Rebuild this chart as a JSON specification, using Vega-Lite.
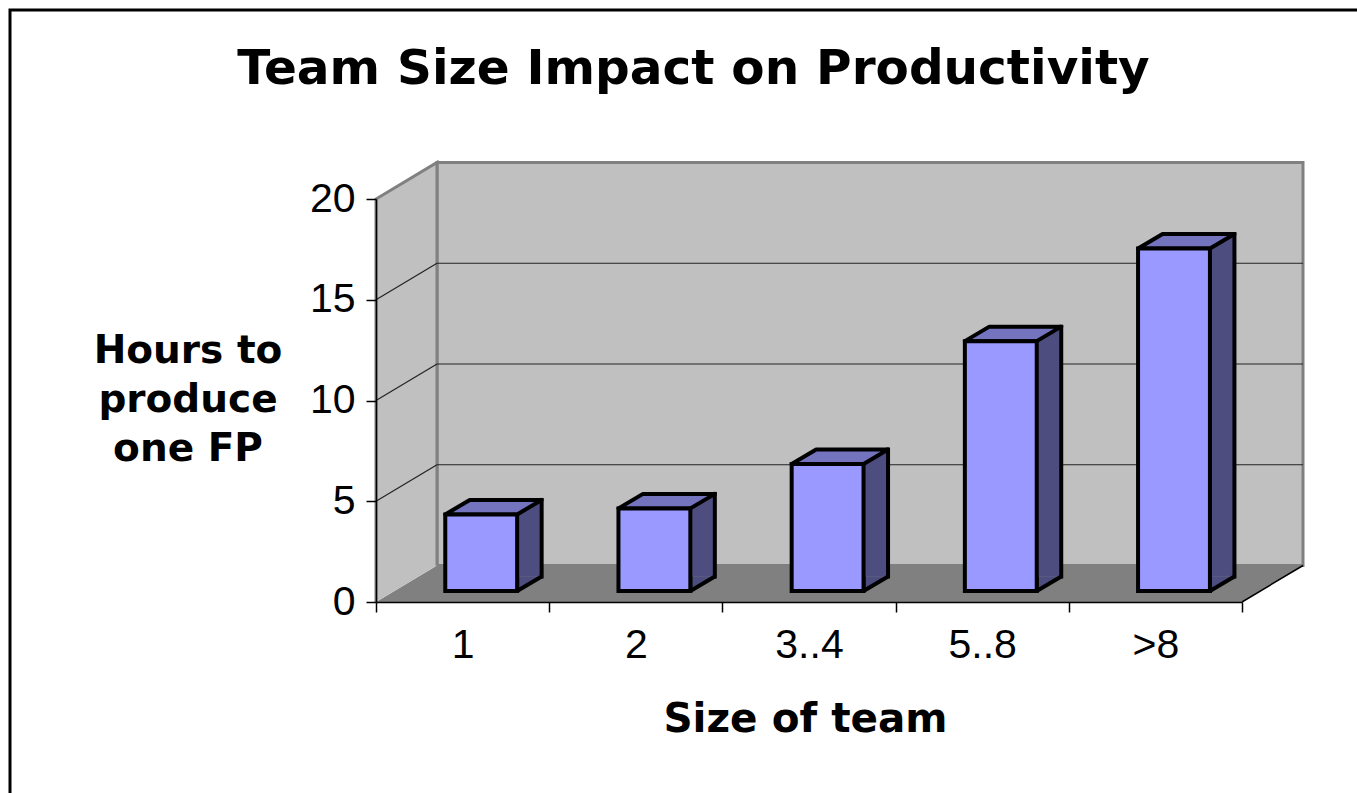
{
  "$schema": "https://vega.github.io/schema/vega-lite/v6.json",
  "width": 1347,
  "height": 783,
  "autosize": {"type": "none"},
  "padding": {"left": 10, "top": 10, "right": 0, "bottom": 0},
  "background": "white",
  "config": {
    "view": {"stroke": "black", "strokeWidth": 3, "strokeDash": [1347, 2130, 783], "fill": null}
  },
  "title": {
    "text": "Team Size Impact on Productivity",
    "font": "DejaVu Sans",
    "fontWeight": "bold",
    "fontSize": 48.5,
    "color": "black",
    "anchor": "middle",
    "frame": "group",
    "baseline": "alphabetic",
    "offset": 0,
    "dx": 10,
    "dy": 122
  },
  "datasets": {
    "teams": [
      {"team": "1", "hours": 3.8},
      {"team": "2", "hours": 4.1},
      {"team": "3..4", "hours": 6.3},
      {"team": "5..8", "hours": 12.4},
      {"team": ">8", "hours": 17.0}
    ],
    "grid": [{"v": 5}, {"v": 10}, {"v": 15}],
    "frame": [{"part": "wall"}]
  },
  "data": {"name": "teams"},
  "resolve": {"axis": {"x": "independent", "y": "independent"}},
  "layer": [
    {
      "data": {"name": "frame"},
      "mark": {"type": "point", "shape": "M61,-36.5 L61,-439.5 L927,-439.5 L927,-36.5 Z", "size": 4, "filled": true, "fill": "#C0C0C0", "stroke": "#808080", "strokeWidth": 3, "opacity": 1, "xOffset": -86.6},
      "encoding": {
        "x": {"datum": "1", "type": "nominal", "scale": {"type": "band", "domain": ["1", "2", "3..4", "5..8", ">8"], "range": [366, 1232], "paddingInner": 0, "paddingOuter": 0}, "axis": null},
        "y": {"datum": 0, "type": "quantitative", "scale": {"type": "linear", "domain": [0, 20], "range": [592, 189], "nice": false, "zero": true}, "axis": null}
      }
    },
    {
      "data": {"name": "frame"},
      "mark": {"type": "point", "shape": "M0,0 L866,0 L927,-36.5 L61,-36.5 Z", "size": 4, "filled": true, "fill": "#808080", "strokeWidth": 0, "opacity": 1, "xOffset": -86.6},
      "encoding": {
        "x": {"datum": "1", "type": "nominal", "axis": null},
        "y": {"datum": 0, "type": "quantitative", "axis": null}
      }
    },
    {
      "data": {"name": "frame"},
      "mark": {"type": "point", "shape": "M0,0 L0,-403 L61,-439.5 L61,-36.5", "size": 4, "filled": true, "fill": "#C0C0C0", "stroke": "#808080", "strokeWidth": 3, "opacity": 1, "xOffset": -86.6},
      "encoding": {
        "x": {"datum": "1", "type": "nominal", "axis": null},
        "y": {"datum": 0, "type": "quantitative", "axis": null}
      }
    },
    {
      "data": {"name": "frame"},
      "mark": {"type": "point", "shape": "M866,0 L927,-36.5", "size": 4, "filled": false, "fill": "transparent", "stroke": "black", "strokeWidth": 1.5, "opacity": 1, "xOffset": -86.6},
      "encoding": {
        "x": {"datum": "1", "type": "nominal", "axis": null},
        "y": {"datum": 0, "type": "quantitative", "axis": null}
      }
    },
    {
      "data": {"name": "grid"},
      "mark": {"type": "rule", "stroke": "#222222", "strokeWidth": 1.2, "xOffset": -25.6, "x2Offset": 147.6, "yOffset": -36.5},
      "encoding": {
        "x": {"datum": "1", "type": "nominal", "axis": null},
        "x2": {"datum": ">8"},
        "y": {"field": "v", "type": "quantitative", "axis": null}
      }
    },
    {
      "data": {"name": "grid"},
      "mark": {"type": "rule", "stroke": "#222222", "strokeWidth": 1.2, "xOffset": -86.6, "x2Offset": -25.6, "y2Offset": -36.5},
      "encoding": {
        "x": {"datum": "1", "type": "nominal", "axis": null},
        "x2": {"datum": "1"},
        "y": {"field": "v", "type": "quantitative", "axis": null},
        "y2": {"field": "v"}
      }
    },
    {
      "mark": {"type": "bar", "width": {"band": 0.415}, "fill": "#4D4D80", "strokeWidth": 0, "xOffset": 43.1, "x2Offset": 43.1, "yOffset": -25.5, "y2Offset": -25.5},
      "encoding": {
        "x": {"field": "team", "type": "nominal", "axis": null},
        "y": {"field": "hours", "type": "quantitative", "axis": null},
        "y2": {"datum": 0}
      }
    },
    {
      "mark": {"type": "point", "shape": "M0,-14.5 L0,0 L24.5,-14.5", "size": 4, "filled": true, "fill": "#4D4D80", "stroke": "black", "strokeWidth": 4, "strokeJoin": "round", "opacity": 1, "xOffset": 54.54, "yOffset": -11},
      "encoding": {
        "x": {"field": "team", "type": "nominal", "axis": null},
        "y": {"datum": 0, "type": "quantitative", "axis": null}
      }
    },
    {
      "mark": {"type": "rule", "stroke": "black", "strokeWidth": 4, "strokeCap": "square", "xOffset": 79.04, "yOffset": -25.5, "y2Offset": -25.5},
      "encoding": {
        "x": {"field": "team", "type": "nominal", "axis": null},
        "y": {"field": "hours", "type": "quantitative", "axis": null},
        "y2": {"datum": 0}
      }
    },
    {
      "mark": {"type": "point", "shape": "M0,0 L71.9,0 L96.4,-14.5 L24.5,-14.5 Z", "size": 4, "filled": true, "fill": "#7373BE", "stroke": "black", "strokeWidth": 4, "strokeJoin": "round", "opacity": 1, "xOffset": -17.34, "yOffset": -11},
      "encoding": {
        "x": {"field": "team", "type": "nominal", "axis": null},
        "y": {"field": "hours", "type": "quantitative", "axis": null}
      }
    },
    {
      "mark": {"type": "bar", "width": {"band": 0.415}, "fill": "#9999FF", "stroke": "black", "strokeWidth": 4, "xOffset": 18.6, "x2Offset": 18.6, "yOffset": -11, "y2Offset": -11},
      "encoding": {
        "x": {
          "field": "team", "type": "nominal", "sort": null,
          "scale": {"type": "band", "domain": ["1", "2", "3..4", "5..8", ">8"], "range": [366, 1232], "paddingInner": 0, "paddingOuter": 0},
          "axis": {
            "title": "Size of team", "orient": "bottom", "offset": -191, "zindex": 1,
            "domainColor": "black", "domainWidth": 1.5, "tickColor": "black", "tickWidth": 1.5, "tickSize": 10, "tickBand": "extent",
            "labelFont": "Liberation Sans", "labelFontSize": 41, "labelColor": "black", "labelPadding": 13, "labelAngle": 0,
            "titleFont": "DejaVu Sans", "titleFontWeight": "bold", "titleFontSize": 40.5, "titleColor": "black",
            "titleX": 795, "titleY": 129, "titleBaseline": "alphabetic", "titleAlign": "center", "grid": false
          }
        },
        "y": {
          "field": "hours", "type": "quantitative",
          "scale": {"type": "linear", "domain": [0, 20], "range": [592, 189], "nice": false, "zero": true},
          "axis": {
            "title": ["Hours to", "produce", "one FP"], "orient": "left", "offset": -366, "zindex": 1, "values": [0, 5, 10, 15, 20],
            "domainColor": "black", "domainWidth": 1.5, "tickColor": "black", "tickWidth": 1.5, "tickSize": 10,
            "labelFont": "Liberation Sans", "labelFontSize": 41, "labelColor": "black", "labelPadding": 11,
            "titleFont": "DejaVu Sans", "titleFontWeight": "bold", "titleFontSize": 39, "titleColor": "black",
            "titleAngle": 0, "titleX": -188.5, "titleY": 352.7, "titleAlign": "center", "titleBaseline": "alphabetic", "titleLineHeight": 49,
            "grid": false
          }
        },
        "y2": {"datum": 0}
      }
    }
  ]
}
